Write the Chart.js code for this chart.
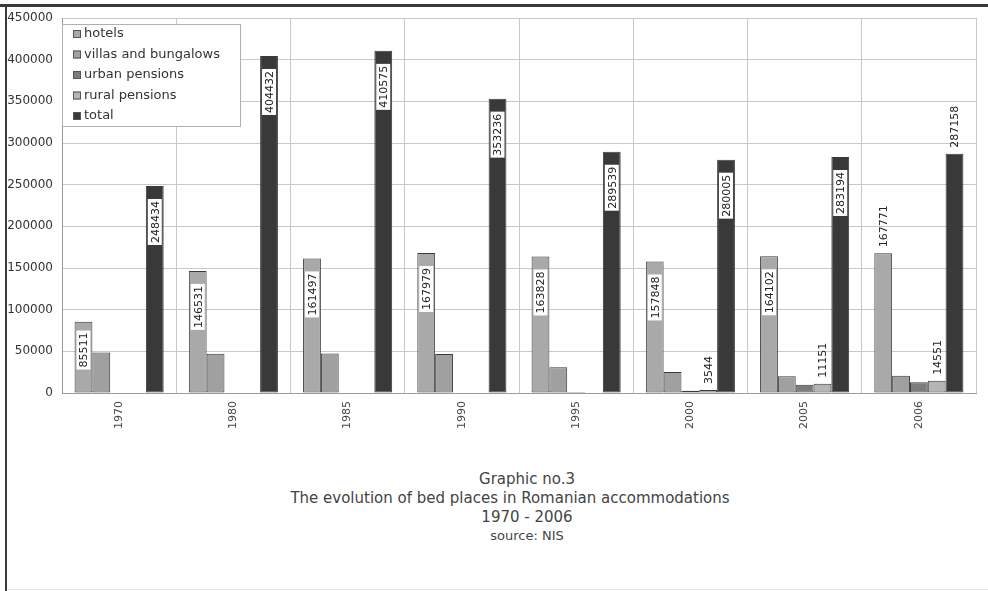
<!DOCTYPE html>
<html>
<head>
<meta charset="utf-8">
<script src="https://cdn.jsdelivr.net/npm/chart.js@4/dist/chart.umd.min.js"></script>
<style>
  body { margin: 0; background: #fff; }
  #wrap { position: relative; width: 988px; height: 591px; overflow: hidden; background: #fff; }
  #topline { position: absolute; left: 0; top: 4px; width: 988px; height: 3px; background: #3a3a3a; }
  #leftline { position: absolute; left: 5px; top: 4px; width: 2px; height: 587px; background: #3a3a3a; }
  #botline { position: absolute; left: 7px; top: 589px; width: 981px; height: 1px; background: #e6e6e6; }
  #cv { position: absolute; left: 0; top: 0; }
  .cap { position: absolute; text-align: center; font-family: "DejaVu Sans", Verdana, sans-serif; color: #444; white-space: nowrap; line-height: 19px; }
</style>
</head>
<body>
<div id="wrap">
  <canvas id="cv" width="988" height="440"></canvas>
  <div id="topline"></div>
  <div id="leftline"></div>
  <div id="botline"></div>
  <div class="cap" style="left:327px;width:400px;top:470px;font-size:15px;">Graphic no.3</div>
  <div class="cap" style="left:210px;width:600px;top:489px;font-size:15px;">The evolution of bed places in Romanian accommodations</div>
  <div class="cap" style="left:327px;width:400px;top:508px;font-size:15px;">1970 - 2006</div>
  <div class="cap" style="left:327px;width:400px;top:526px;font-size:13px;">source: NIS</div>
</div>
<script>
// valori
const years  = ['1970', '1980', '1985', '1990', '1995', '2000', '2005', '2006'];
const hotels = [85511, 146531, 161497, 167979, 163828, 157848, 164102, 167771];
const villas = [48700, 47200, 47500, 46800, 30800, 25200, 20000, 20800];
const urban  = [null, null, null, null, 1200, 2600, 10000, 12800];
const rural  = [null, null, null, null, null, 3544, 11151, 14551];
const total  = [248434, 404432, 410575, 353236, 289539, 280005, 283194, 287158];
const yTicks = [0, 50000, 100000, 150000, 200000, 250000, 300000, 350000, 400000, 450000];

// etichete: care bare au valoare afisata si care sunt deasupra barei
const etichete = {
    0: { arata: [0,1,2,3,4,5,6,7], afara: [7] },
    3: { arata: [5,6,7],           afara: [5,6,7] },
    4: { arata: [0,1,2,3,4,5,6,7], afara: [7] }
};

const FONT = '"DejaVu Sans", Verdana, sans-serif';
const BORDER = '#3a3a3a';

const pluginEtichete = {
    id: 'etichete',
    afterDatasetsDraw(chart) {
        const ctx = chart.ctx;
        ctx.save();
        ctx.font = '11px ' + FONT;
        ctx.fillStyle = '#222';
        Object.keys(etichete).forEach(k => {
            const di = +k;
            const cfg = etichete[di];
            const meta = chart.getDatasetMeta(di);
            const vals = chart.data.datasets[di].data;
            cfg.arata.forEach(i => {
                const bar = meta.data[i];
                if (!bar || vals[i] == null) return;
                const txt = String(vals[i]);
                const w = ctx.measureText(txt).width;
                ctx.save();
                if (cfg.afara.includes(i)) {
                    ctx.translate(bar.x, bar.y - 6);
                    ctx.rotate(-Math.PI / 2);
                    ctx.textAlign = 'left';
                    ctx.textBaseline = 'middle';
                    ctx.fillText(txt, 0, 1);
                } else {
                    const h = bar.base - bar.y;
                    const cy = bar.y + Math.min(36, h * 0.4);
                    ctx.translate(bar.x, cy);
                    ctx.rotate(-Math.PI / 2);
                    ctx.fillStyle = '#fff';
                    ctx.fillRect(-w / 2 - 2, -7, w + 4, 14);
                    ctx.fillStyle = '#222';
                    ctx.textAlign = 'center';
                    ctx.textBaseline = 'middle';
                    ctx.fillText(txt, 0, 1);
                }
                ctx.restore();
            });
        });
        ctx.restore();
    }
};

const pluginLegenda = {
    id: 'legendaBox',
    afterDraw(chart) {
        const ctx = chart.ctx;
        const x0 = 62, y0 = 24, w = 178, h = 102;
        ctx.save();
        ctx.fillStyle = '#fff';
        ctx.fillRect(x0, y0, w, h);
        ctx.strokeStyle = '#b0b0b0';
        ctx.lineWidth = 1;
        ctx.strokeRect(x0 + 0.5, y0 + 0.5, w, h);
        ctx.font = '13px ' + FONT;
        ctx.textBaseline = 'middle';
        chart.data.datasets.forEach((ds, i) => {
            const cy = y0 + 10 + i * 20.5;
            ctx.fillStyle = ds.backgroundColor;
            ctx.fillRect(x0 + 11, cy - 4, 8, 8);
            ctx.strokeStyle = '#555';
            ctx.strokeRect(x0 + 11.5, cy - 3.5, 7, 7);
            ctx.fillStyle = '#333';
            ctx.fillText(ds.label, x0 + 22, cy);
        });
        ctx.restore();
    }
};

function serie(label, data, color) {
    return { label, data, backgroundColor: color, borderColor: BORDER, borderWidth: 1, borderSkipped: false };
}

new Chart(document.getElementById('cv'), {
    type: 'bar',
    data: {
        labels: years,
        datasets: [
            serie('hotels', hotels, '#a9a9a9'),
            serie('villas and bungalows', villas, '#a0a0a0'),
            serie('urban pensions', urban, '#7c7c7c'),
            serie('rural pensions', rural, '#b5b5b5'),
            serie('total', total, '#393939')
        ]
    },
    options: {
        responsive: false,
        animation: false,
        layout: { padding: { top: 18, right: 12, left: 0, bottom: 0 } },
        datasets: { bar: { categoryPercentage: 0.78, barPercentage: 1.0 } },
        plugins: { legend: { display: false }, tooltip: { enabled: false } },
        scales: {
            x: {
                grid: { color: '#c8c8c8', offset: true, drawTicks: false },
                border: { color: '#9a9a9a' },
                ticks: { minRotation: 90, maxRotation: 90, padding: 8, color: '#444', font: { family: FONT, size: 11 } },
                afterFit: s => { s.height = 47; }
            },
            y: {
                min: 0, max: 450000,
                afterBuildTicks: s => { s.ticks = yTicks.map(v => ({ value: v })); },
                grid: { color: '#c8c8c8', drawTicks: false },
                border: { color: '#9a9a9a' },
                ticks: { padding: 9, color: '#333', font: { family: FONT, size: 12 }, callback: v => String(v) },
                afterFit: s => { s.width = 62; }
            }
        }
    },
    plugins: [pluginEtichete, pluginLegenda]
});
</script>
</body>
</html>
